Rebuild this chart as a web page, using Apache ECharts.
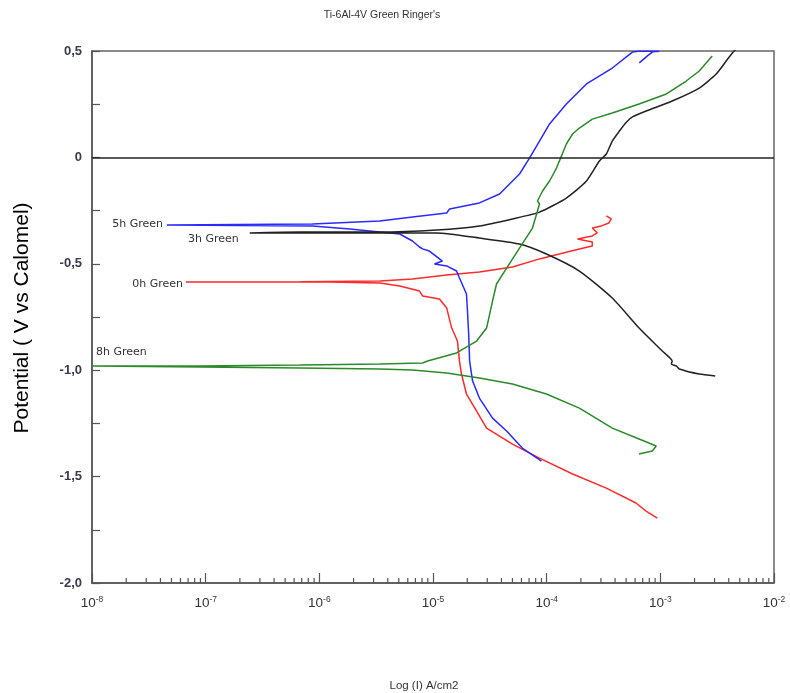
<!DOCTYPE html>
<html>
<head>
<meta charset="utf-8">
<script src="https://cdn.jsdelivr.net/npm/echarts@6/dist/echarts.min.js"></script>
<style>html,body{margin:0;padding:0;background:#fff}#c{width:790px;height:693px}</style>
</head>
<body>
<div id="c"></div>
<script>
// ---- data (current density A/cm2, potential V vs SCE) ----
const h0I = [9.4e-4,7.5e-4,6.1e-4,3.35e-4,1.69e-4,8.65e-5,5.0e-5,2.96e-5,2.42e-5,1.97e-5,1.78e-5,1.71e-5,1.64e-5,1.46e-5,1.32e-5,1.14e-5,8.1e-6,7.6e-6,5.1e-6,3.4e-6,1.23e-6,2.46e-7,6.7e-8,6.8e-7,3.4e-6,6.6e-6,1.32e-5,2.56e-5,5.0e-5,8.65e-5,1.29e-4,1.94e-4,2.52e-4,2.52e-4,1.87e-4,2.52e-4,2.79e-4,2.52e-4,3.03e-4,3.53e-4,3.7e-4,3.35e-4];
const h0V = [-1.695,-1.662,-1.624,-1.554,-1.488,-1.413,-1.347,-1.272,-1.192,-1.112,-1.018,-0.957,-0.863,-0.802,-0.708,-0.665,-0.651,-0.628,-0.604,-0.590,-0.586,-0.585,-0.585,-0.584,-0.581,-0.571,-0.553,-0.539,-0.515,-0.477,-0.454,-0.430,-0.416,-0.398,-0.383,-0.369,-0.355,-0.332,-0.322,-0.308,-0.289,-0.275];

const h5I = [9.0e-5,6.1e-5,4.44e-5,3.34e-5,2.56e-5,2.23e-5,2.1e-5,2.06e-5,2.01e-5,1.97e-5,1.71e-5,1.61e-5,1.32e-5,1.03e-5,1.21e-5,9.3e-6,8.1e-6,7.6e-6,6.6e-6,5.1e-6,3.4e-6,1.85e-6,8.7e-7,4.56e-8,8.7e-7,3.4e-6,6.6e-6,1.32e-5,1.4e-5,2.56e-5,3.85e-5,5.77e-5,7.06e-5,8.65e-5,1.06e-4,1.49e-4,2.24e-4,3.78e-4,5.68e-4,6.4e-4,9.8e-4,8.6e-4,7.7e-4,6.53e-4];
const h5V = [-1.427,-1.366,-1.286,-1.225,-1.131,-1.051,-0.957,-0.830,-0.722,-0.642,-0.567,-0.534,-0.510,-0.501,-0.487,-0.440,-0.430,-0.421,-0.393,-0.360,-0.351,-0.336,-0.322,-0.318,-0.313,-0.299,-0.280,-0.261,-0.242,-0.214,-0.172,-0.078,-0.003,0.077,0.157,0.251,0.345,0.420,0.495,0.499,0.499,0.497,0.477,0.444];

const h3I = [3.04e-3,2.2e-3,1.47e-3,1.38e-3,1.25e-3,1.27e-3,1.04e-3,6.5e-4,3.78e-4,1.94e-4,9.95e-5,5.77e-5,2.56e-5,1.08e-5,3.4e-6,6.7e-7,2.44e-7,6.7e-7,3.4e-6,1.08e-5,2.56e-5,5.0e-5,8.65e-5,1.49e-4,2.24e-4,2.91e-4,3.35e-4,3.78e-4,4.37e-4,5.02e-4,5.68e-4,7.5e-4,1.27e-3,2.2e-3,3.1e-3,3.8e-3,4.3e-3,4.94e-3];
const h3V = [-1.027,-1.018,-0.994,-0.980,-0.971,-0.957,-0.910,-0.802,-0.661,-0.534,-0.454,-0.407,-0.379,-0.355,-0.355,-0.355,-0.355,-0.351,-0.351,-0.341,-0.322,-0.289,-0.257,-0.191,-0.111,-0.017,0.016,0.077,0.124,0.165,0.190,0.218,0.265,0.326,0.392,0.453,0.491,0.523];

const h8I = [6.5e-4,8.5e-4,9.2e-4,6.5e-4,3.78e-4,1.94e-4,9.95e-5,5.0e-5,2.56e-5,1.32e-5,6.6e-6,3.4e-6,6.7e-7,8.9e-8,1.02e-8,8.9e-8,6.7e-7,3.4e-6,8.1e-6,8.97e-6,1.61e-5,2.42e-5,2.96e-5,3.34e-5,3.62e-5,4.44e-5,5.77e-5,7.5e-5,8.3e-5,8.65e-5,8.3e-5,9.2e-5,1.06e-4,1.22e-4,1.35e-4,1.49e-4,1.69e-4,1.94e-4,2.52e-4,3.78e-4,6.5e-4,1.13e-3,1.69e-3,2.2e-3,2.86e-3];
const h8V = [-1.394,-1.380,-1.356,-1.323,-1.272,-1.178,-1.112,-1.065,-1.037,-1.013,-0.999,-0.994,-0.990,-0.985,-0.980,-0.980,-0.976,-0.971,-0.966,-0.957,-0.919,-0.863,-0.802,-0.675,-0.595,-0.520,-0.426,-0.332,-0.252,-0.219,-0.205,-0.158,-0.111,-0.050,0.007,0.063,0.110,0.138,0.180,0.209,0.251,0.298,0.359,0.406,0.477];

const seriesNames = ['0h Green','5h Green','3h Green','8h Green'];
const decades = [-8,-7,-6,-5,-4,-3];
const minorMultipliers = [2,3,4,5,6,7,8,9];
const yMin = -2.0, yMax = 0.5;

function pairs(I, V){ return I.map((x,i)=>[x, V[i]]); }
const minorTicks = [];
decades.forEach(d => minorMultipliers.forEach(m => minorTicks.push([m*Math.pow(10,d), yMin])));

const chart = echarts.init(document.getElementById('c'), null, {renderer:'canvas'});
const lineBase = {type:'line', showSymbol:false, symbol:'none', clip:true, silent:true, animation:false};
const lblFont = {fontFamily:'DejaVu Sans', fontSize:11, fill:'#333'};

chart.setOption({
  backgroundColor:'#fff',
  animation:false,
  grid:{left:92, right:16, top:51, bottom:110, show:true, borderColor:'#666', borderWidth:1.5, backgroundColor:'transparent'},
  xAxis:{
    type:'log', logBase:10, min:1e-8, max:1e-2,
    axisLine:{onZero:false, lineStyle:{color:'#555', width:1.5}},
    axisTick:{inside:true, length:10, lineStyle:{color:'#555', width:1.2}},
    minorTick:{show:false},
    splitLine:{show:false},
    axisLabel:{
      margin:12, color:'#333', fontFamily:'Liberation Sans', fontSize:13.5,
      formatter: v => '10{s|' + Math.round(Math.log10(v)) + '}',
      rich:{s:{fontSize:8.5, fontFamily:'Liberation Sans', color:'#333', verticalAlign:'top', padding:[0,0,8,0]}}
    }
  },
  yAxis:{
    type:'value', min:yMin, max:yMax, interval:0.5,
    axisLine:{onZero:false, lineStyle:{color:'#555', width:1.5}},
    axisTick:{inside:true, length:8, lineStyle:{color:'#555', width:1.2}},
    minorTick:{show:true, splitNumber:2, length:8, lineStyle:{color:'#555', width:1.2}},
    splitLine:{show:false},
    axisLabel:{
      margin:10, color:'#3a3a4c', fontFamily:'Liberation Sans', fontSize:13, fontWeight:'bold',
      formatter: v => (Math.abs(v) < 1e-9 ? '0' : v.toFixed(1).replace('.', ','))
    }
  },
  series:[
    Object.assign({}, lineBase, {name:seriesNames[0], data:pairs(h0I,h0V), lineStyle:{color:'#ff2a2a', width:1.5},
      markLine:{silent:true, symbol:['none','none'], label:{show:false}, animation:false,
        lineStyle:{color:'#222', width:1.5, type:'solid'}, data:[{yAxis:0}]}}),
    Object.assign({}, lineBase, {name:seriesNames[1], data:pairs(h5I,h5V), lineStyle:{color:'#2a2aff', width:1.5}}),
    Object.assign({}, lineBase, {name:seriesNames[2], data:pairs(h3I,h3V), smooth:0.2, lineStyle:{color:'#222222', width:1.5}}),
    Object.assign({}, lineBase, {name:seriesNames[3], data:pairs(h8I,h8V), lineStyle:{color:'#2a8a2a', width:1.5}}),
    {
      type:'custom', silent:true, animation:false, data:minorTicks, encode:{x:0, y:1}, clip:false,
      renderItem:(params, api) => {
        const p = api.coord([api.value(0), api.value(1)]);
        return {type:'line', shape:{x1:p[0], y1:p[1], x2:p[0], y2:p[1]-5}, style:{stroke:'#555', lineWidth:1.2}};
      }
    }
  ],
  graphic:[
    {type:'text', x:382, y:15, style:{text:"Ti-6Al-4V Green Ringer's", fontFamily:'Liberation Sans', fontSize:10.5, fill:'#333', textAlign:'center', textVerticalAlign:'middle'}},
    {type:'text', x:424, y:686, style:{text:'Log (I) A/cm2', fontFamily:'Liberation Sans', fontSize:11.5, fill:'#333', textAlign:'center', textVerticalAlign:'middle'}},
    {type:'text', x:22, y:318, rotation:Math.PI/2, style:{text:'Potential ( V vs Calomel)', fontFamily:'Liberation Sans', fontSize:21, fill:'#000', textAlign:'center', textVerticalAlign:'middle'}},
    {type:'text', x:163, y:224, style:Object.assign({text:'5h Green', textAlign:'right', textVerticalAlign:'middle'}, lblFont)},
    {type:'text', x:188, y:239, style:Object.assign({text:'3h Green', textAlign:'left', textVerticalAlign:'middle'}, lblFont)},
    {type:'text', x:183, y:284, style:Object.assign({text:'0h Green', textAlign:'right', textVerticalAlign:'middle'}, lblFont)},
    {type:'text', x:96, y:352, style:Object.assign({text:'8h Green', textAlign:'left', textVerticalAlign:'middle'}, lblFont)}
  ]
});
</script>
</body>
</html>
